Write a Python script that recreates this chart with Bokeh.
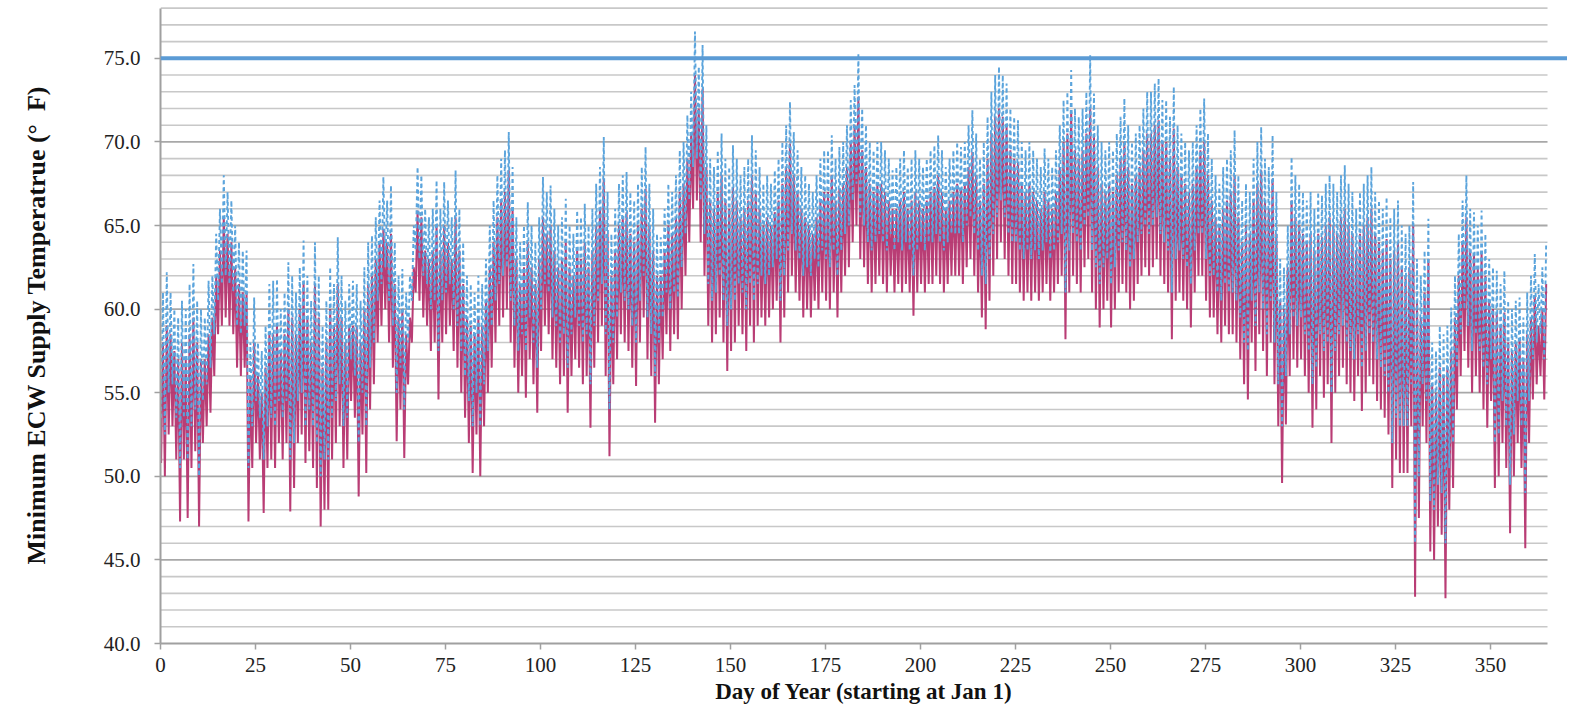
from bokeh.plotting import figure
from bokeh.models import Span, FixedTicker, NumeralTickFormatter, Range1d
from bokeh.embed import file_html
from bokeh.resources import INLINE

# ---- data: daily low / high of each hourly series ----
blue_hi = [
    61.0, 62.2, 61.0, 60.0, 59.5, 60.5, 60.0, 61.5, 62.7, 60.5,
    60.0, 59.5, 61.7, 62.0, 64.5, 66.0, 68.0, 67.0, 66.5, 65.0,
    64.0, 63.5, 63.5, 58.0, 60.7, 58.0, 57.5, 59.0, 61.5, 61.7,
    61.8, 60.0, 61.0, 62.8, 62.0, 61.0, 62.5, 64.1, 62.0, 60.5,
    64.0, 62.0, 59.0, 60.5, 62.5, 61.5, 64.3, 62.0, 60.5, 61.5,
    61.7, 61.5, 60.5, 62.5, 64.0, 64.4, 65.5, 66.5, 67.9, 66.5,
    67.4, 64.0, 62.0, 62.4, 61.0, 62.0, 65.0, 68.5, 68.0, 66.0,
    65.5, 66.0, 67.7, 66.0, 67.6, 66.5, 65.5, 68.3, 66.0, 64.0,
    62.0, 61.5, 61.0, 62.0, 61.5, 63.0, 65.0, 66.5, 68.0, 69.0,
    69.5, 70.6, 68.5, 65.5, 64.0, 65.0, 66.4, 65.0, 64.0, 65.5,
    67.9, 67.0, 67.4, 66.0, 65.0, 65.5, 66.6, 65.0, 64.5, 65.9,
    65.5, 66.3, 65.0, 66.0, 67.5, 68.5, 70.3, 67.0, 64.5, 66.0,
    67.5, 68.0, 68.2, 67.0, 66.5, 67.5, 68.5, 69.7, 67.5, 66.0,
    64.5, 64.3, 66.0, 67.5, 67.0, 68.0, 69.5, 70.0, 71.6, 73.0,
    76.6, 74.5, 75.8, 71.0, 69.0, 68.5, 69.5, 70.5, 69.0, 68.5,
    69.8, 69.0, 68.0, 68.5, 69.0, 70.4, 69.5, 68.5, 67.5, 68.0,
    67.5, 68.3, 69.0, 70.0, 71.0, 72.4, 70.6, 69.5, 68.5, 68.0,
    67.5, 67.0, 68.0, 69.0, 69.5, 69.5, 70.4, 69.0, 69.7, 70.0,
    71.0, 72.5, 73.4, 75.3, 72.0, 71.0, 70.0, 69.5, 70.0, 70.0,
    69.5, 69.0, 68.3, 68.5, 69.0, 69.5, 68.5, 69.0, 69.5, 69.0,
    68.5, 69.0, 69.5, 69.8, 70.4, 69.5, 68.5, 69.0, 69.5, 70.0,
    69.7, 70.0, 71.0, 71.9, 70.5, 69.0, 70.0, 71.5, 73.0, 74.0,
    74.5, 74.0, 73.5, 72.0, 71.5, 71.3, 70.0, 69.5, 70.0, 69.5,
    69.0, 68.5, 69.6, 69.0, 68.5, 69.5, 71.0, 72.5, 73.0, 74.3,
    72.0, 71.5, 72.0, 73.0, 75.2, 72.9, 71.0, 70.0, 69.5, 70.0,
    69.5, 70.5, 71.5, 72.6, 71.0, 70.0, 70.5, 71.0, 72.0, 73.0,
    73.0, 73.5, 73.8, 72.5, 72.5, 71.5, 73.3, 71.0, 70.5, 70.0,
    69.5, 70.0, 71.0, 72.0, 72.6, 70.5, 69.0, 68.0, 67.5, 68.5,
    69.0, 69.5, 70.7, 68.0, 66.5, 67.5, 67.0, 69.0, 70.0, 70.9,
    69.0, 68.5, 70.4, 67.0, 63.0, 62.5, 65.0, 69.1, 68.0, 67.5,
    67.0, 66.5, 67.0, 66.0, 67.0, 66.8, 67.5, 68.0, 67.5, 67.0,
    68.0, 68.6, 67.5, 67.0, 66.0, 67.0, 67.5, 68.0, 68.5, 67.0,
    66.5, 66.0, 66.7, 65.5, 66.0, 66.5, 65.0, 64.5, 65.0, 67.6,
    63.0, 62.0, 63.5, 65.4, 58.0, 57.5, 59.0, 58.5, 59.0, 60.1,
    62.0, 64.5, 66.5, 68.0, 66.0, 65.8, 65.0, 65.9, 64.5, 63.0,
    62.5, 62.3, 61.5, 62.3, 60.5, 60.0, 60.5, 60.7, 59.5, 61.0,
    62.0, 63.3, 61.5, 62.5, 64.0,
]

blue_lo = [
    53.5, 52.5, 55.0, 55.5, 53.5, 50.5, 53.5, 51.0, 53.0, 54.0,
    50.0, 54.5, 55.5, 56.5, 58.5, 60.5, 61.5, 62.0, 61.5, 61.0,
    59.0, 58.5, 59.0, 50.5, 53.0, 54.5, 53.5, 51.0, 53.0, 53.5,
    53.0, 54.5, 53.5, 54.5, 51.0, 52.0, 54.5, 55.0, 53.0, 54.0,
    53.0, 52.0, 50.0, 51.0, 51.0, 53.5, 54.5, 55.5, 53.0, 53.5,
    57.0, 56.0, 52.0, 55.0, 53.0, 56.5, 58.0, 60.5, 61.5, 62.5,
    60.5, 59.0, 55.0, 56.5, 54.0, 58.0, 60.5, 63.5, 63.0, 62.0,
    61.5, 60.0, 60.5, 57.5, 60.5, 61.0, 61.5, 60.0, 59.0, 57.5,
    56.0, 54.5, 53.0, 55.0, 53.0, 55.5, 57.5, 59.0, 60.5, 61.5,
    62.0, 62.5, 60.5, 59.0, 57.5, 58.5, 57.5, 59.5, 58.0, 56.5,
    60.0, 61.5, 61.0, 59.5, 59.0, 58.0, 58.5, 56.5, 58.5, 59.5,
    59.0, 58.0, 58.5, 55.5, 59.0, 60.5, 61.5, 58.5, 54.0, 58.0,
    59.5, 61.0, 60.5, 60.0, 59.0, 58.0, 60.5, 62.0, 59.5, 58.5,
    56.0, 58.0, 59.5, 61.0, 60.0, 61.0, 60.7, 62.5, 64.5, 66.5,
    68.5, 69.0, 66.5, 64.5, 61.5, 60.5, 61.0, 62.0, 60.5, 59.0,
    60.0, 60.5, 61.5, 61.0, 60.0, 61.5, 60.5, 61.5, 62.0, 61.5,
    62.0, 62.5, 63.0, 60.5, 62.0, 63.5, 64.5, 63.5, 63.0, 62.0,
    62.5, 62.0, 63.0, 62.5, 63.5, 63.0, 62.5, 63.5, 62.0, 63.5,
    64.5, 65.0, 66.5, 67.5, 65.5, 65.0, 64.0, 63.5, 64.0, 64.5,
    64.0, 63.5, 64.5, 63.5, 64.0, 63.5, 64.0, 63.5, 62.0, 63.5,
    64.0, 63.5, 64.0, 64.0, 64.5, 64.0, 63.5, 64.0, 64.5, 64.5,
    64.5, 64.0, 65.0, 65.5, 64.5, 63.5, 62.0, 61.5, 63.0, 64.5,
    65.5, 66.5, 65.5, 64.5, 64.0, 64.0, 63.5, 63.0, 63.5, 63.0,
    63.5, 63.0, 63.5, 64.0, 63.0, 63.5, 64.0, 64.5, 61.0, 63.5,
    64.5, 64.0, 63.5, 65.0, 65.5, 63.5, 62.5, 61.5, 62.5, 63.0,
    61.5, 62.5, 63.5, 64.0, 63.5, 62.5, 63.0, 64.0, 64.5, 65.0,
    64.5, 65.0, 65.5, 64.5, 64.0, 63.5, 61.0, 63.0, 63.5, 63.0,
    62.5, 61.5, 63.5, 64.5, 64.5, 63.0, 62.0, 62.0, 61.0, 60.5,
    61.5, 61.0, 61.0, 60.5, 59.5, 58.0, 57.5, 60.5, 59.0, 61.0,
    60.0, 58.5, 60.5, 58.0, 55.5, 53.0, 56.0, 58.5, 59.5, 59.0,
    59.5, 58.5, 57.5, 55.5, 56.5, 58.5, 57.5, 58.0, 55.0, 57.5,
    58.5, 59.0, 58.0, 57.5, 57.0, 58.5, 56.5, 57.5, 58.5, 58.0,
    57.0, 56.5, 56.0, 55.0, 52.0, 53.5, 53.0, 53.0, 53.0, 55.5,
    46.0, 50.0, 55.5, 54.5, 48.5, 48.0, 49.5, 49.0, 46.0, 50.5,
    52.0, 56.5, 58.5, 60.0, 59.0, 57.5, 58.5, 57.5, 56.5, 55.5,
    57.0, 52.0, 52.5, 54.5, 53.0, 49.5, 52.5, 54.5, 53.0, 49.0,
    54.5, 57.0, 58.0, 58.5, 57.0,
]

pink_hi = [
    58.0, 59.0, 58.5, 57.5, 57.0, 58.0, 57.0, 58.5, 59.5, 58.0,
    57.0, 57.0, 58.5, 59.5, 62.0, 63.5, 65.5, 64.5, 64.0, 62.5,
    61.5, 61.0, 61.0, 56.0, 58.0, 56.0, 55.0, 56.5, 58.5, 58.5,
    59.0, 57.5, 58.5, 60.0, 59.5, 58.5, 60.0, 61.5, 59.5, 58.0,
    61.5, 59.5, 56.5, 58.0, 60.0, 59.0, 61.5, 59.5, 58.0, 59.0,
    59.0, 59.0, 58.0, 60.0, 61.5, 62.0, 63.0, 64.0, 64.8, 64.0,
    64.5, 61.5, 59.5, 60.0, 58.5, 59.5, 62.5, 65.9, 65.5, 63.5,
    63.0, 63.5, 65.0, 63.5, 65.0, 64.0, 63.0, 65.5, 63.5, 61.5,
    59.5, 59.0, 58.5, 59.5, 59.0, 60.5, 62.5, 64.0, 65.5, 66.5,
    67.0, 68.3, 66.0, 63.0, 61.5, 62.5, 64.0, 62.5, 61.5, 63.0,
    65.5, 64.5, 65.0, 63.5, 62.5, 63.0, 64.0, 62.5, 62.0, 63.5,
    63.0, 64.0, 62.5, 63.5, 65.0, 66.0, 67.8, 64.5, 62.0, 63.5,
    65.0, 65.5, 65.8, 64.5, 64.0, 65.0, 66.0, 67.2, 65.0, 63.5,
    62.0, 62.0, 63.5, 65.0, 64.5, 65.5, 67.0, 67.5, 69.0, 70.5,
    74.0, 72.0, 73.2, 68.5, 66.5, 66.0, 67.0, 68.0, 66.5, 66.0,
    67.3, 66.5, 65.5, 66.0, 66.5, 68.0, 67.0, 66.0, 65.0, 65.5,
    65.0, 65.8, 66.5, 67.5, 68.5, 69.9, 68.0, 67.0, 66.0, 65.5,
    65.0, 64.5, 65.5, 66.5, 67.0, 67.0, 68.0, 66.5, 67.2, 67.5,
    68.5, 70.0, 71.0, 72.7, 69.5, 68.5, 67.5, 67.0, 67.5, 67.5,
    67.0, 66.5, 66.0, 66.0, 66.5, 67.0, 66.0, 66.5, 67.0, 66.5,
    66.0, 66.5, 67.0, 67.3, 68.0, 67.0, 66.0, 66.5, 67.0, 67.5,
    67.2, 67.5, 68.5, 69.4, 68.0, 66.5, 67.5, 69.0, 70.5, 71.5,
    72.0, 71.5, 71.0, 69.5, 69.0, 68.8, 67.5, 67.0, 67.5, 67.0,
    66.5, 66.0, 67.0, 66.5, 66.0, 67.0, 68.5, 70.0, 70.5, 71.8,
    69.5, 69.0, 69.5, 70.5, 72.0, 70.4, 68.5, 67.5, 67.0, 67.5,
    67.0, 68.0, 69.0, 70.0, 68.5, 67.5, 68.0, 68.5, 69.5, 70.5,
    70.5, 71.0, 71.3, 70.0, 70.0, 69.0, 70.8, 68.5, 68.0, 67.5,
    67.0, 67.5, 68.5, 69.5, 70.0, 68.0, 66.5, 65.5, 65.0, 66.0,
    66.5, 67.0, 68.0, 65.5, 64.0, 65.0, 64.5, 66.5, 67.5, 68.3,
    66.5, 66.0, 67.8, 64.5, 60.5, 60.0, 62.5, 66.5, 65.5, 65.0,
    64.5, 64.0, 64.5, 63.5, 64.5, 64.3, 65.0, 65.5, 65.0, 64.5,
    65.5, 66.0, 65.0, 64.5, 63.5, 64.5, 65.0, 65.5, 66.0, 64.5,
    64.0, 63.5, 64.2, 63.0, 63.5, 64.0, 62.5, 62.0, 62.5, 65.0,
    60.5, 59.5, 61.0, 63.0, 55.5, 55.0, 56.5, 56.0, 56.5, 57.5,
    59.5, 62.0, 64.0, 65.5, 63.5, 63.3, 62.5, 63.4, 62.0, 60.5,
    60.0, 59.8, 59.0, 59.8, 58.0, 57.5, 58.0, 58.2, 57.0, 58.5,
    59.5, 60.8, 59.0, 60.0, 61.5,
]

pink_lo = [
    50.8, 50.0, 52.5, 53.0, 51.0, 47.3, 51.0, 47.5, 50.5, 51.5,
    47.0, 52.0, 53.0, 53.8, 56.0, 58.5, 59.0, 59.5, 59.0, 58.5,
    56.5, 56.0, 56.5, 47.3, 50.5, 52.0, 51.0, 47.8, 50.5, 51.0,
    50.5, 52.0, 51.0, 52.0, 47.9, 49.3, 52.0, 52.5, 50.8, 51.5,
    50.5, 49.3, 47.0, 48.0, 48.0, 51.0, 52.0, 53.0, 50.5, 51.0,
    54.5, 53.5, 48.8, 52.5, 50.2, 54.0, 55.5, 58.0, 59.0, 60.0,
    58.0, 56.5, 52.1, 54.0, 51.1, 55.5, 58.0, 61.0, 60.5, 59.5,
    59.0, 57.5, 58.0, 54.6, 58.0, 58.5, 59.0, 57.5, 56.5, 55.0,
    53.5, 52.0, 50.2, 52.5, 50.0, 53.0, 55.0, 56.5, 58.0, 59.0,
    59.5, 60.0, 58.0, 56.5, 55.0, 56.0, 54.7, 57.0, 55.5, 53.8,
    57.5, 59.0, 58.5, 57.0, 56.5, 55.5, 56.0, 53.8, 56.0, 57.0,
    56.5, 55.5, 56.0, 52.9, 56.5, 58.0, 59.0, 56.0, 51.2, 55.5,
    57.0, 58.5, 58.0, 57.5, 56.5, 55.4, 58.0, 59.5, 57.0, 56.0,
    53.2, 55.5, 57.0, 58.5, 57.5, 58.5, 58.2, 60.0, 62.0, 64.0,
    66.0, 66.5, 64.0, 62.0, 59.0, 58.0, 58.5, 59.5, 58.0, 56.3,
    57.5, 58.0, 59.0, 58.5, 57.5, 59.0, 58.0, 59.0, 59.5, 59.0,
    59.5, 60.0, 60.5, 58.0, 59.5, 61.0, 62.0, 61.0, 60.5, 59.5,
    60.0, 59.5, 60.5, 60.0, 61.0, 60.5, 60.0, 61.0, 59.5, 61.0,
    62.0, 62.5, 64.0, 65.0, 63.0, 62.5, 61.5, 61.0, 61.5, 62.0,
    61.5, 61.0, 62.0, 61.0, 61.5, 61.0, 61.5, 61.0, 59.6, 61.0,
    61.5, 61.0, 61.5, 61.5, 62.0, 61.5, 61.0, 61.5, 62.0, 62.0,
    62.0, 61.5, 62.5, 63.0, 62.0, 61.0, 59.5, 58.8, 60.5, 62.0,
    63.0, 64.0, 63.0, 62.0, 61.5, 61.5, 61.0, 60.5, 61.0, 60.5,
    61.0, 60.5, 61.0, 61.5, 60.5, 61.0, 61.5, 62.0, 58.2, 61.0,
    62.0, 61.5, 61.0, 62.5, 63.0, 61.0, 60.0, 58.9, 60.0, 60.5,
    58.9, 60.0, 61.0, 61.5, 61.0, 60.0, 60.5, 61.5, 62.0, 62.5,
    62.0, 62.5, 63.0, 62.0, 61.5, 61.0, 58.2, 60.5, 61.0, 60.5,
    60.0, 58.9, 61.0, 62.0, 62.0, 60.5, 59.5, 59.5, 58.5, 58.0,
    59.0, 58.5, 58.5, 58.0, 57.0, 55.5, 54.6, 58.0, 56.3, 58.5,
    57.5, 56.0, 58.0, 55.5, 53.0, 49.6, 53.1, 56.0, 57.0, 56.5,
    57.0, 56.0, 55.0, 52.9, 54.0, 56.0, 54.7, 55.5, 52.0, 55.0,
    56.0, 56.5, 55.5, 55.0, 54.5, 56.0, 53.9, 55.0, 56.0, 55.5,
    54.5, 54.0, 53.5, 52.5, 49.3, 51.0, 50.2, 50.2, 50.2, 53.0,
    42.8, 47.5, 53.0, 52.0, 45.5, 45.0, 47.0, 46.5, 42.7, 48.0,
    49.3, 54.0, 56.0, 57.5, 56.5, 55.0, 56.0, 55.0, 54.0, 52.9,
    54.5, 49.3, 50.0, 52.0, 50.5, 46.6, 50.0, 52.0, 50.5, 45.7,
    52.0, 54.6, 55.5, 56.0, 54.6,
]

limit_temp = 75.0
y_ticks = [40, 45, 50, 55, 60, 65, 70, 75]
y_grid = [40, 41, 42, 43, 44, 45, 46, 47, 48, 49, 50, 51, 52, 53, 54, 55, 56, 57, 58,
          59, 60, 61, 62, 63, 64, 65, 66, 67, 68, 69, 70, 71, 72, 73, 74, 75, 76, 77, 78]
x_ticks = [0, 25, 50, 75, 100, 125, 150, 175, 200, 225, 250, 275, 300, 325, 350]
n_days = 365

# ---- build zig-zag traces (one low and one high point per day) ----
def zigzag(lo, hi):
    xs, ys = [], []
    for d in range(len(lo)):
        xs += [d + 0.15, d + 0.65]
        ys += [lo[d], hi[d]]
    return xs, ys

px, py = zigzag(pink_lo, pink_hi)
bx, by = zigzag(blue_lo, blue_hi)

FONT = "Liberation Serif"

p = figure(width=1567, height=711, output_backend="svg", toolbar_location=None,
           x_range=Range1d(0, 370.26), y_range=Range1d(40, 78.1),
           min_border_left=160, min_border_right=0, min_border_top=6, min_border_bottom=68,
           background_fill_color="white", border_fill_color="white")
p.outline_line_color = None
p.xgrid.visible = False
p.ygrid.visible = False

# horizontal gridlines restricted to the 0..365 day span
minor = [v for v in y_grid if v % 5 != 0]
major = [v for v in y_grid if v % 5 == 0 and v != 40]
p.segment(x0=[0] * len(minor), x1=[n_days] * len(minor), y0=minor, y1=minor,
          line_color="#c8c8c8", line_width=1.6)
p.segment(x0=[0] * len(major), x1=[n_days] * len(major), y0=major, y1=major,
          line_color="#a8a8a8", line_width=1.8)

# series
p.line(px, py, line_color="#b5336e", line_width=2.0, line_alpha=0.95)
p.line(bx, by, line_color="#5ba4dc", line_width=1.9, line_dash="4 3")

# 75 F limit line
p.add_layout(Span(location=limit_temp, dimension="width", line_color="#5b9bd5",
                  line_width=4))

# axes
p.xaxis.ticker = FixedTicker(ticks=x_ticks)
p.xaxis.bounds = (0, n_days)
p.yaxis.ticker = FixedTicker(ticks=y_ticks)
p.yaxis.bounds = (40, 78)
p.yaxis.formatter = NumeralTickFormatter(format="0.0")
for ax in (p.xaxis[0], p.yaxis[0]):
    ax.axis_line_color = "#a0a0a0"
    ax.axis_line_width = 2
    ax.major_tick_line_color = "#a0a0a0"
    ax.major_tick_line_width = 1.5
    ax.major_tick_out = 6
    ax.major_tick_in = 0
    ax.minor_tick_out = 0
    ax.minor_tick_in = 0
    ax.major_label_text_font = FONT
    ax.major_label_text_font_size = "21px"
    ax.major_label_text_color = "#222222"
    ax.axis_label_text_font = FONT
    ax.axis_label_text_font_style = "bold"
    ax.axis_label_text_color = "#111111"

p.xaxis.major_label_standoff = 8
p.yaxis.major_label_standoff = 14
p.xaxis.axis_label = "Day of Year (starting at Jan 1)"
p.xaxis.axis_label_text_font_size = "23px"
p.xaxis.axis_label_standoff = 4
p.yaxis.axis_label = "Minimum ECW Supply Temperatrue (°\u00a0\u00a0F)"
p.yaxis.axis_label_text_font_size = "26px"
p.yaxis.axis_label_standoff = 50

open("out.html", "w").write(file_html(p, INLINE))
